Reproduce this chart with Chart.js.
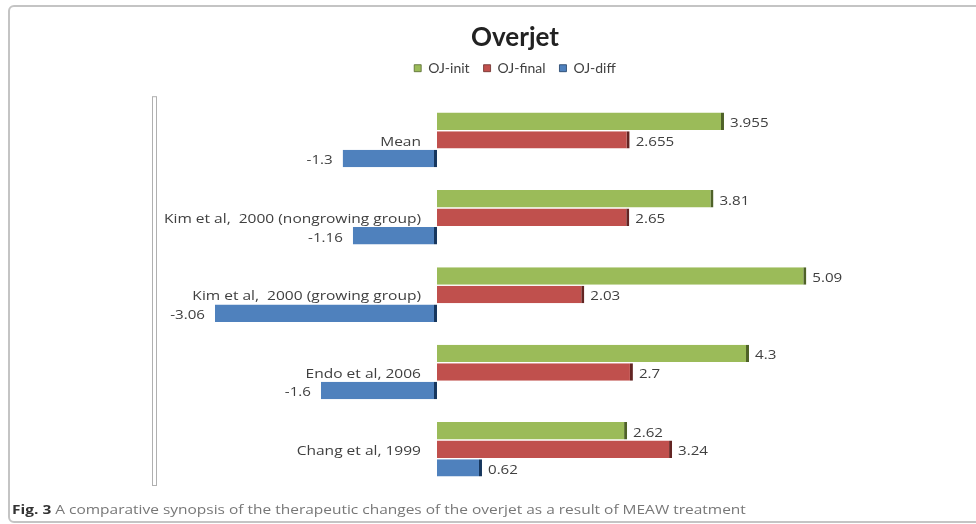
<!DOCTYPE html>
<html>
<head>
<meta charset="utf-8">
<script src="https://cdn.jsdelivr.net/npm/chart.js@4"></script>
<style>
  body { margin: 0; background: #fff; }
  #wrap { position: relative; width: 976px; height: 524px; overflow: hidden; }
  #frame { position: absolute; left: 8px; top: 5px; width: 1000px; height: 514px;
           border: 2px solid #c4c4c4; border-radius: 6px; }
  #caption { position: absolute; left: 12px; top: 500px; font: 13px "Open Sans", sans-serif; color: #777;
             white-space: nowrap; transform: scaleX(1.19); transform-origin: left top; }
  #caption b { color: #333; }
  canvas { position: absolute; left: 0; top: 0; }
</style>
</head>
<body>
<div id="wrap">
  <div id="frame"></div>
  <canvas id="chart" width="976" height="524"></canvas>
  <div id="caption"><b>Fig. 3</b> A comparative synopsis of the therapeutic changes of the overjet as a result of MEAW treatment</div>
</div>
<script>
// chart data
const categories = ['Mean', 'Kim et al,  2000 (nongrowing group)', 'Kim et al,  2000 (growing group)', 'Endo et al, 2006', 'Chang et al, 1999'];
const ojInit = [3.955, 3.81, 5.09, 4.3, 2.62];
const ojFinal = [2.655, 2.65, 2.03, 2.7, 3.24];
const ojDiff = [-1.3, -1.16, -3.06, -1.6, 0.62];

// text in the source is a little stretched sideways
function wideText(ctx, text, x, y, stretch) {
  ctx.save();
  ctx.translate(x, y);
  ctx.scale(stretch, 1);
  ctx.fillText(text, 0, 0);
  ctx.restore();
}

// category names drawn beside the zero line, value labels at bar ends
const labelsPlugin = {
  id: 'labelsPlugin',
  beforeInit(chart) {
    // leave some room between the legend and the bars
    const fit = chart.legend.fit;
    chart.legend.fit = function () {
      fit.call(this);
      this.height += 16;
    };
  },
  beforeDatasetsDraw(chart) {
    const ctx = chart.ctx;
    const area = chart.chartArea;
    // the left wall line
    ctx.save();
    ctx.strokeStyle = '#b0b0b0';
    ctx.lineWidth = 1;
    ctx.strokeRect(area.left - 1.5, area.top - 4.5, 4, area.bottom - area.top + 2);
    ctx.restore();
  },
  afterDatasetsDraw(chart) {
    const ctx = chart.ctx;
    const x = chart.scales.x;
    const y = chart.scales.y;
    const zero = x.getPixelForValue(0);
    ctx.save();
    ctx.font = '13.5px "Open Sans", sans-serif';
    ctx.fillStyle = '#404040';
    ctx.textBaseline = 'middle';
    ctx.textAlign = 'right';
    categories.forEach((c, i) => {
      wideText(ctx, c, zero - 16, y.getPixelForValue(i) + 2, 1.15);
    });
    chart.data.datasets.forEach((ds, di) => {
      chart.getDatasetMeta(di).data.forEach((bar, i) => {
        const v = ds.data[i];
        if (v >= 0) {
          ctx.textAlign = 'left';
          wideText(ctx, String(v), bar.x + 6, bar.y + 2, 1.12);
        } else {
          ctx.textAlign = 'right';
          wideText(ctx, String(v), bar.x - 10, bar.y + 2, 1.12);
        }
      });
    });
    ctx.restore();
  }
};

const ctx = document.getElementById('chart').getContext('2d');
new Chart(ctx, {
  type: 'bar',
  data: {
    labels: categories,
    datasets: [
      { label: 'OJ-init', data: ojInit, backgroundColor: '#9bbb59', borderColor: '#4f6228' },
      { label: 'OJ-final', data: ojFinal, backgroundColor: '#c0504d', borderColor: '#632523' },
      { label: 'OJ-diff', data: ojDiff, backgroundColor: '#4f81bd', borderColor: '#17375e' }
    ]
  },
  options: {
    indexAxis: 'y',
    responsive: false,
    animation: false,
    layout: { padding: { left: 154, right: 100, top: 12, bottom: 36 } },
    datasets: {
      bar: {
        categoryPercentage: 0.72,
        barPercentage: 0.94,
        borderWidth: { top: 0, bottom: 0, left: 0, right: 3 },
        borderSkipped: false
      }
    },
    scales: {
      x: { min: -3.9, max: 6.05, display: false },
      y: { display: false }
    },
    plugins: {
      title: {
        display: true,
        text: 'Overjet',
        fullSize: false,
        color: '#222',
        font: { family: 'Lato', size: 26, weight: 'bold' },
        padding: { top: 10, bottom: -6 }
      },
      legend: {
        fullSize: false,
        labels: {
          boxWidth: 7,
          boxHeight: 7,
          color: '#404040',
          font: { family: 'Lato', size: 14 },
          padding: 14
        }
      },
      tooltip: { enabled: false }
    }
  },
  plugins: [labelsPlugin]
});
</script>
</body>
</html>
